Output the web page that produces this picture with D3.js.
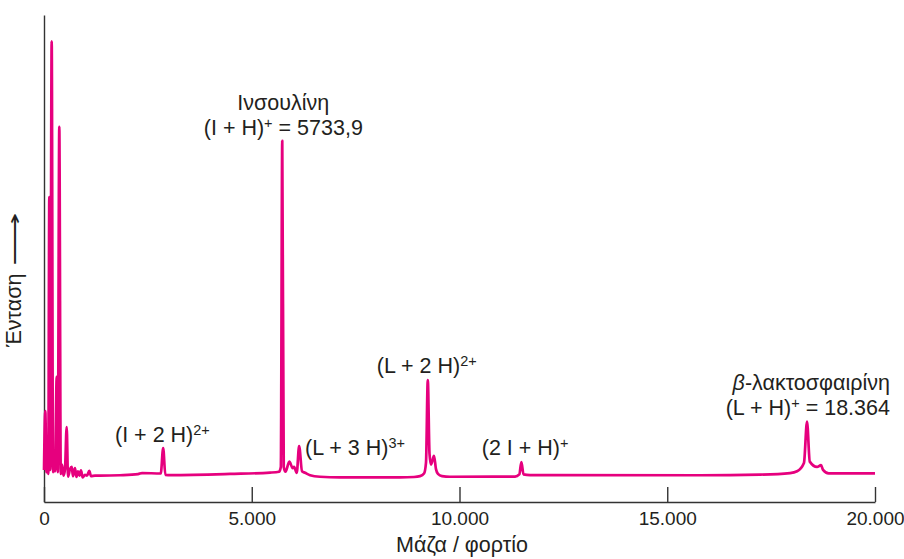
<!DOCTYPE html>
<html>
<head>
<meta charset="utf-8">
<script src="https://cdn.jsdelivr.net/npm/d3@7"></script>
<style>
  html, body { margin: 0; padding: 0; background: #fff; }
  svg { display: block; font-family: "Liberation Sans", Arial, Helvetica, sans-serif; }
  .axis path, .axis line { stroke: #333; stroke-width: 1.4; }
  .axis text { fill: #231f20; font-size: 19px; }
  .lbl { fill: #231f20; font-size: 21.5px; }
</style>
</head>
<body>
<div id="chart"></div>
<script>
// mass spectrum: insulin + beta-lactoglobulin
const masses = [
  0, 31, 60, 79, 103, 128, 149, 185, 217, 241, 265, 306, 332, 368, 404, 433, 469, 505, 546, 578,
  626, 667, 698, 746, 782, 818, 854, 890, 931, 987, 1035, 1090, 1131, 1228, 1348, 1829, 2263, 2359,
  2810, 2868, 2920, 3050, 4477, 5440, 5657, 5700, 5734, 5770, 5813, 5904, 5986, 6018, 6083, 6140,
  6210, 6282, 6403, 6643, 7125, 8569, 8906, 9050, 9146, 9194, 9237, 9278, 9314, 9386, 9434, 9482,
  9579, 9771, 11336, 11440, 11490, 11540, 11698, 15790, 17234, 17956, 18124, 18290, 18364, 18430,
  18605, 18701, 18749, 18884, 20000
];
const intensities = [
  2.3, 15.7, 1.8, 8.0, 1.4, 64.5, 2.3, 100, 1.8, 3.5, 2.0, 23.5, 1.8, 80.5, 1.4, 3.5, 1.0, 2.5, 12.1, 0.8,
  2.5, 3.0, 0.9, 2.7, 0.7, 2.0, 1.0, 2.2, 0.6, 1.2, 1.0, 2.1, 0.9, 1.0, 1.0, 1.1, 1.35, 1.6,
  1.5, 7.3, 1.2, 1.14, 1.4, 1.7, 1.9, 3.0, 77.3, 3.0, 1.9, 4.2, 2.7, 3.0, 1.66, 7.75,
  2.0, 1.66, 1.1, 0.75, 0.62, 0.62, 0.7, 0.9, 1.5, 4.0, 22.8, 6.0, 3.5, 5.5, 2.5, 1.4,
  0.9, 0.75, 0.8, 1.3, 4.1, 1.3, 1.14, 1.1, 1.25, 1.6, 2.0, 3.9, 13.3, 4.2,
  3.0, 3.4, 2.3, 1.53, 1.53
];

const xTicks = [0, 5000, 10000, 15000, 20000];
const xTitle = 'Μάζα / φορτίο';
const yTitle = 'Ένταση';

// labels: parts are [text, 0 normal / 1 superscript / 2 italic]
const labels = [
  { lines: [[['Ινσουλίνη', 0]], [['(I + H)', 0], ['+', 1], [' = 5733,9', 0]]], mass: 5760, value: 84.4, anchor: 'middle' },
  { lines: [[['(I + 2 H)', 0], ['2+', 1]]], mass: 1709, value: 8.7, anchor: 'start' },
  { lines: [[['(L + 3 H)', 0], ['3+', 1]]], mass: 6282, value: 5.7, anchor: 'start' },
  { lines: [[['(L + 2 H)', 0], ['2+', 1]]], mass: 8008, value: 24.4, anchor: 'start' },
  { lines: [[['(2 I + H)', 0], ['+', 1]]], mass: 10535, value: 5.7, anchor: 'start' },
  { lines: [[['β', 2], ['-λακτοσφαιρίνη', 0]], [['(L + H)', 0], ['+', 1], [' = 18.364', 0]]], mass: 20360, value: 20.5, anchor: 'end' }
];

(function(){
  const width = 904, height = 559;
  const mLeft = 44, mRight = 875, mTop = 15, mBottom = 502;
  const lineGap = 25;

  const svg = d3.select('#chart').append('svg').attr('width', width).attr('height', height);

  const x = d3.scaleLinear().domain([0, 20000]).range([mLeft, mRight]);
  const y = d3.scaleLinear().domain([-5, 106]).range([mBottom, mTop]);

  const el = d3.formatLocale({ decimal: ',', thousands: '.', grouping: [3], currency: ['', '€'] });
  const fmt = el.format(',d');

  svg.append('g')
    .attr('class', 'axis')
    .attr('transform', `translate(0,${mBottom})`)
    .call(d3.axisBottom(x).tickValues(xTicks).tickFormat(fmt).tickSize(-15).tickSizeOuter(0).tickPadding(10));

  svg.append('g')
    .attr('class', 'axis')
    .attr('transform', `translate(${mLeft},0)`)
    .call(d3.axisLeft(y).ticks(0).tickSizeOuter(0));

  svg.selectAll('.axis').attr('font-size', null).attr('font-family', null);

  const pts = masses.map((m, i) => [m, intensities[i]]);
  svg.append('path')
    .datum(pts)
    .attr('fill', 'none')
    .attr('stroke', '#e6007e')
    .attr('stroke-width', 2.7)
    .attr('stroke-linejoin', 'round')
    .attr('d', d3.line().x(d => x(d[0])).y(d => y(d[1])).curve(d3.curveMonotoneX));

  // axis titles
  svg.append('text')
    .attr('class', 'lbl')
    .attr('x', 462).attr('y', 552)
    .attr('text-anchor', 'middle')
    .text(xTitle);

  svg.append('text')
    .attr('class', 'lbl')
    .attr('transform', 'translate(21,347) rotate(-90)')
    .text(yTitle);

  // long arrow after the y title, stretched to the reference length
  const arrow = svg.append('text')
    .attr('class', 'lbl')
    .style('font-size', '18px')
    .text('⟶');
  const aw = arrow.node().getComputedTextLength() || 20;
  arrow.attr('transform', `translate(21,266) rotate(-90) scale(${54 / aw},1)`);

  // peak labels, one text element per line
  labels.forEach(l => {
    l.lines.forEach((line, li) => {
      const t = svg.append('text')
        .attr('class', 'lbl')
        .attr('text-anchor', l.anchor)
        .attr('x', x(l.mass))
        .attr('y', y(l.value) + li * lineGap);
      line.forEach((p, pi) => {
        const s = t.append('tspan').text(p[0]);
        if (p[1] === 1) s.attr('dy', -7).style('font-size', '14.5px');
        else if (pi > 0 && line[pi - 1][1] === 1) s.attr('dy', 7);
        if (p[1] === 2) s.style('font-style', 'italic');
      });
    });
  });
})();
</script>
</body>
</html>
